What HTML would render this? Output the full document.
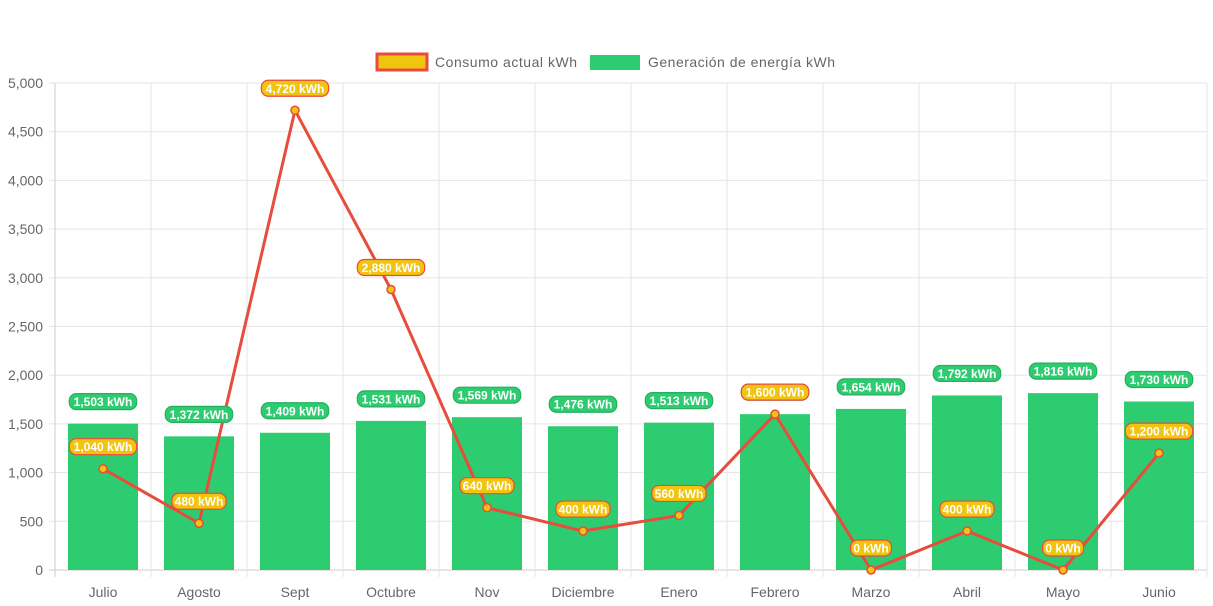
<!DOCTYPE html>
<html><head><meta charset="utf-8"><style>
html,body{margin:0;padding:0;background:#fff;}
svg{display:block;font-family:"Liberation Sans",Arial,sans-serif;}
</style></head><body>
<svg id="chart" width="1213" height="606">
<g id="legend">
 <g>
  <rect x="377" y="54" width="50" height="16" fill="#f1c40f" stroke="#e74c3c" stroke-width="3"/>
  <text x="435" y="67" font-size="14" fill="#666" textLength="142">Consumo actual kWh</text>
 </g>
 <g>
  <rect x="590" y="55" width="50" height="15" fill="#2ecc71"/>
  <text x="648" y="67" font-size="14" fill="#666" textLength="187">Generación de energía kWh</text>
 </g>
</g>
<g id="grid"></g>
<g id="bars"></g>
<g id="line"></g>
<g id="labels"></g>
</svg>
<script>
const categories=["Julio","Agosto","Sept","Octubre","Nov","Diciembre","Enero","Febrero","Marzo","Abril","Mayo","Junio"];
const generacion=[1503,1372,1409,1531,1569,1476,1513,1600,1654,1792,1816,1730];
const consumo=[1040,480,4720,2880,640,400,560,1600,0,400,0,1200];
const yTicks=[0,500,1000,1500,2000,2500,3000,3500,4000,4500,5000];
const NS="http://www.w3.org/2000/svg";
const L=55,R=1207,T=83,B=570,yMax=5000;
const bw=(R-L)/categories.length;
const y=v=>B-(v/yMax)*(B-T);
const x=i=>L+bw*(i+0.5);
function mk(tag,attrs,parent,txt){const e=document.createElementNS(NS,tag);for(const k in attrs)e.setAttribute(k,attrs[k]);if(txt!==undefined)e.textContent=txt;parent.appendChild(e);return e;}
const grid=document.getElementById('grid');
yTicks.forEach(t=>{
 const ln=mk('line',{x1:L-6,x2:R,y1:y(t),y2:y(t),stroke:t===0?'#ccc':'#e5e5e5','stroke-width':1},grid);
 
 
 const tx=mk('text',{x:L-12,y:y(t)+5,'text-anchor':'end','font-size':14,fill:'#666'},grid,t.toLocaleString('en-US'));
 
 
});
for(let i=0;i<=categories.length;i++){
 const ln=mk('line',{x1:L+bw*i,x2:L+bw*i,y1:T,y2:B+7,stroke:i===0?'#ccc':'#e5e5e5','stroke-width':1},grid);
 
 
}
categories.forEach((c,i)=>{
 const tx=mk('text',{x:x(i),y:597,'text-anchor':'middle','font-size':14,fill:'#666'},grid,c);
 
 
});
const bars=document.getElementById('bars');
const barW=70;
generacion.forEach((v,i)=>{
 const r=mk('rect',{x:x(i)-barW/2,y:y(v),width:barW,height:B-y(v),fill:'#2ecc71'},bars);
 
 
});
const line=document.getElementById('line');
const pts=consumo.map((v,i)=>x(i)+','+y(v)).join(' ');
const pl=mk('polyline',{points:pts,fill:'none',stroke:'#e74c3c','stroke-width':3,'stroke-linejoin':'round'},line);


consumo.forEach((v,i)=>{
 const c=mk('circle',{cx:x(i),cy:y(v),r:4,fill:'#f1c40f',stroke:'#e74c3c','stroke-width':1.5},line);
 
 
});
const labels=document.getElementById('labels');
function label(cx,cy,txt,fill,stroke){
 const w=txt.length*6.6+8;
 const g=mk('g',{},labels);
 
 
 mk('rect',{x:cx-w/2,y:cy-8,width:w,height:16,rx:7,fill:fill,stroke:stroke,'stroke-width':1.2},g);
 mk('text',{x:cx,y:cy+4.5,'text-anchor':'middle','font-size':12,'font-weight':'bold',fill:'#fff'},g,txt);
}
generacion.forEach((v,i)=>label(x(i),y(v)-22,v.toLocaleString('en-US')+' kWh','#2ecc71','#27ae60'));
consumo.forEach((v,i)=>label(x(i),y(v)-22,v.toLocaleString('en-US')+' kWh','#f1c40f','#e74c3c'));
</script>
</body></html>
